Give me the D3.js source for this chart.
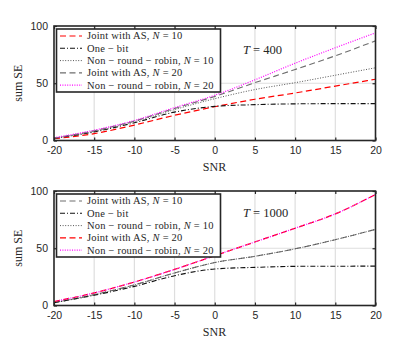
<!DOCTYPE html>
<html><head><meta charset="utf-8">
<script src="https://cdn.jsdelivr.net/npm/d3@7/dist/d3.min.js"></script>
<style>body{margin:0;background:#fff}svg{display:block}</style>
</head><body>
<svg id="c" width="415" height="348"></svg>
<script>
const snr = [-20, -15, -10, -5, 0, 5, 10, 15, 20];
const xTicks = [-20, -15, -10, -5, 0, 5, 10, 15, 20];
const yTicks = [0, 50, 100];

// T = 400
const t400_joint10   = [1.5, 6, 13.5, 22, 29.5, 36, 41.5, 47.5, 53.5];
const t400_onebit    = [2, 7.5, 15.5, 24.8, 29.8, 31.3, 32, 32.2, 32.2];
const t400_nonrr10   = [2, 8, 16.5, 27, 36.5, 44.5, 50.5, 57, 63.5];
const t400_joint20   = [2, 8.5, 17, 28, 38.5, 50.5, 62, 74, 87];
const t400_nonrr20   = [2.5, 9, 17.5, 28.7, 39.5, 53, 67.5, 81, 94];

// T = 1000
const t1000_joint10  = [2.5, 9.5, 18, 28.4, 37.5, 43, 49.5, 57.5, 66.5];
const t1000_onebit   = [2.5, 9, 16.7, 26, 31.9, 33.3, 34.2, 34.3, 34.4];
const t1000_nonrr10  = [2.5, 9.5, 18, 28.4, 37.5, 43, 49.5, 57.5, 66.5];
const t1000_joint20  = [3.5, 11, 20.5, 31.5, 43.5, 55.5, 67.5, 80, 97];
const t1000_nonrr20  = [3.5, 11, 20.5, 31.5, 43.5, 55.5, 67.5, 80, 97];

const legendLabels = ["Joint with AS,", "One \u2212 bit", "Non \u2212 round \u2212 robin,", "Joint with AS,", "Non \u2212 round \u2212 robin,"];
const legendN = ["10", null, "10", "20", "20"];

const styles = {
  red:    {stroke:"#ff0000", dash:"6,3.5", w:1.2},
  gray:   {stroke:"#6e6e6e", dash:"6,3.5", w:1.1},
  dashdot:{stroke:"#111",    dash:"5,2,1,2", w:1.1},
  dot:    {stroke:"#555",    dash:"1,1.6", w:1.0},
  mag:    {stroke:"#ff00ff", dash:"1,1.4", w:1.2}
};

const panels = [
  {top:26, T:"400", series:[
     {v:t400_joint10, s:styles.red},
     {v:t400_onebit, s:styles.dashdot},
     {v:t400_nonrr10, s:styles.dot},
     {v:t400_joint20, s:styles.gray},
     {v:t400_nonrr20, s:styles.mag}], tY:54},
  {top:191, T:"1000", series:[
     {v:t1000_joint10, s:styles.gray},
     {v:t1000_onebit, s:styles.dashdot},
     {v:t1000_nonrr10, s:styles.dot},
     {v:t1000_joint20, s:styles.red},
     {v:t1000_nonrr20, s:styles.mag}], tY:217}
];

const svg = d3.select("#c");
const X0 = 54, X1 = 375.5, H = 114.5;
const serif = "'Liberation Serif','DejaVu Serif',serif";
const sans = "'Liberation Sans',Arial,sans-serif";

panels.forEach(p => {
  const x = d3.scaleLinear().domain([-20,20]).range([X0,X1]);
  const y = d3.scaleLinear().domain([0,100]).range([p.top+H, p.top]);
  const g = svg.append("g");
  g.selectAll(".gx").data(xTicks.slice(1,-1)).join("line")
    .attr("x1",d=>x(d)).attr("x2",d=>x(d)).attr("y1",y(0)).attr("y2",y(100))
    .attr("stroke","#dedede").attr("stroke-width",1.2);
  g.append("line").attr("x1",X0).attr("x2",X1).attr("y1",y(50)).attr("y2",y(50))
    .attr("stroke","#dedede").attr("stroke-width",1.2);
  const line = d3.line().x((d,i)=>x(snr[i])).y(d=>y(d)).curve(d3.curveMonotoneX);
  p.series.forEach(sr => {
    g.append("path").datum(sr.v).attr("d",line).attr("fill","none")
      .attr("stroke",sr.s.stroke).attr("stroke-width",sr.s.w).attr("stroke-dasharray",sr.s.dash);
  });
  const xb = d3.axisBottom(x).tickValues(xTicks).tickSize(-3).tickPadding(6).tickFormat(d3.format("d"));
  const ax = g.append("g").attr("transform",`translate(0,${y(0)})`).call(xb);
  const xt = d3.axisTop(x).tickValues(xTicks).tickSize(-3).tickFormat("");
  const axt = g.append("g").attr("transform",`translate(0,${y(100)})`).call(xt);
  const yl = d3.axisLeft(y).tickValues(yTicks).tickSize(-3).tickPadding(6);
  const ayl = g.append("g").attr("transform",`translate(${X0},0)`).call(yl);
  const yr = d3.axisRight(y).tickValues(yTicks).tickSize(-3).tickFormat("");
  const ayr = g.append("g").attr("transform",`translate(${X1},0)`).call(yr);
  [ax,axt,ayl,ayr].forEach(a=>{
    a.select(".domain").remove();
    a.selectAll(".tick line").attr("stroke","#262626").attr("stroke-width",1.2);
    a.selectAll("text").attr("font-family",sans).attr("font-size",10.5).attr("fill","#262626");
  });
  ax.selectAll("text").text(d=>d<0?"-"+Math.abs(d):d);
  g.append("rect").attr("x",X0).attr("y",p.top).attr("width",X1-X0).attr("height",H)
    .attr("fill","none").attr("stroke","#262626").attr("stroke-width",1.6);
  g.append("text").attr("x",214.5).attr("y",y(0)+30).attr("text-anchor","middle")
    .attr("font-family",serif).attr("font-size",12).attr("fill","#262626").text("SNR");
  g.append("text").attr("transform",`translate(22,${p.top+H/2}) rotate(-90)`).attr("text-anchor","middle")
    .attr("font-family",serif).attr("font-size",12).attr("fill","#262626").text("sum SE");
  const tt = g.append("text").attr("x",243).attr("y",p.tY).attr("font-family",serif).attr("font-size",12.5).attr("fill","#262626");
  tt.append("tspan").attr("font-style","italic").text("T");
  tt.append("tspan").text(" = "+p.T);
  const lx = 56.5, ly = p.top+3, lw = 164, lh = 63;
  g.append("rect").attr("x",lx).attr("y",ly).attr("width",lw).attr("height",lh)
    .attr("fill","#fff").attr("stroke","#262626").attr("stroke-width",1.6);
  p.series.forEach((sr,i)=>{
    const yy = ly + 7 + i*12.3;
    g.append("line").attr("x1",60).attr("x2",82).attr("y1",yy).attr("y2",yy)
      .attr("stroke",sr.s.stroke).attr("stroke-width",sr.s.w).attr("stroke-dasharray",sr.s.dash);
    const t = g.append("text").attr("x",87).attr("y",yy+3.4).attr("font-family",serif)
      .attr("font-size",10.5).attr("letter-spacing",0.2).attr("fill","#262626");
    t.append("tspan").text(legendLabels[i]);
    if(legendN[i]){
      t.append("tspan").attr("dx",3).attr("font-style","italic").text("N");
      t.append("tspan").text(" = "+legendN[i]);
    }
  });
});
</script>
</body></html>
